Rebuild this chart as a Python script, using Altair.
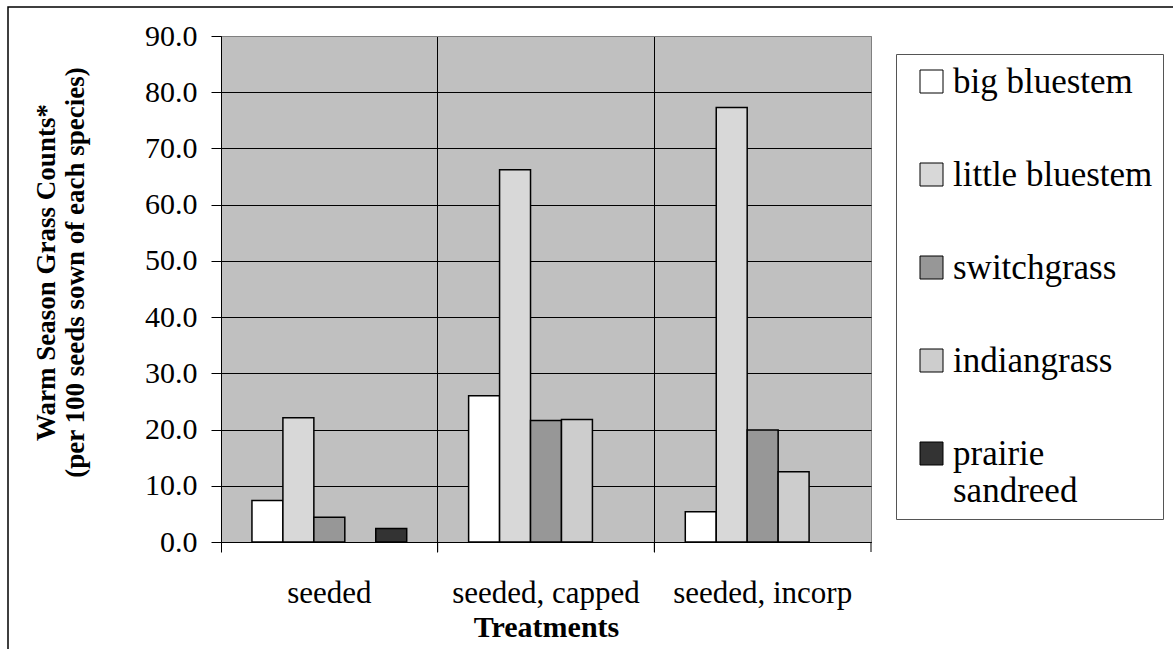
import altair as alt
import pandas as pd

treatments = ["seeded", "seeded, capped", "seeded, incorp"]
species = ["big bluestem", "little bluestem", "switchgrass", "indiangrass", "prairie sandreed"]
seeded = [7.4, 22.1, 4.4, None, 2.4]
seeded_capped = [26.0, 66.2, 21.6, 21.8, None]
seeded_incorp = [5.4, 77.3, 19.9, 12.5, None]
fills = ["#ffffff", "#d8d8d8", "#979797", "#cdcdcd", "#333333"]
y_ticks = [0, 10, 20, 30, 40, 50, 60, 70, 80, 90]

rows = []
for t, vals in zip(treatments, [seeded, seeded_capped, seeded_incorp]):
    for s, v in zip(species, vals):
        rows.append({"treatment": t, "species": s, "value": v})
df = pd.DataFrame(rows)
tdf = pd.DataFrame({"treatment": treatments})
frame_df = pd.DataFrame({"k": [0]})

FONT = "Liberation Serif"
W, H = 650, 506

x_scale = alt.Scale(domain=treatments, paddingInner=0, paddingOuter=0)
x_axis = alt.Axis(
    title="Treatments",
    bandPosition=0,
    labelAngle=0,
    labelFont=FONT,
    labelFontSize=31,
    labelColor="black",
    labelBaseline="alphabetic",
    labelPadding=50,
    labelOverlap=False,
    labelLimit=400,
    tickSize=10,
    tickColor="black",
    domainColor="black",
    grid=True,
    gridColor="black",
    gridWidth=1,
    titleFont=FONT,
    titleFontSize=30,
    titleFontWeight="bold",
    titleColor="black",
    titleBaseline="alphabetic",
    titleAlign="center",
    titleX=W / 2,
    titleY=94,
)

bars = alt.Chart(df).mark_bar(stroke="black", strokeWidth=1.5).encode(
    x=alt.X("treatment:N", scale=x_scale, sort=treatments, axis=x_axis),
    xOffset=alt.XOffset(
        "species:N",
        scale=alt.Scale(domain=species, paddingInner=0, paddingOuter=1),
    ),
    y=alt.Y(
        "value:Q",
        scale=alt.Scale(domain=[0, 90], nice=False, zero=True),
        axis=alt.Axis(
            title=["Warm Season Grass Counts*", "(per 100 seeds sown of each species)"],
            values=y_ticks,
            format=".1f",
            labelFont=FONT,
            labelFontSize=30,
            labelColor="black",
            labelPadding=14,
            tickSize=10,
            tickColor="black",
            domainColor="black",
            grid=True,
            gridColor={"condition": {"test": "datum.value === 90", "value": "#808080"}, "value": "black"},
            gridWidth=1,
            titleFont=FONT,
            titleFontSize=27,
            titleFontWeight="bold",
            titleColor="black",
            titleAngle=270,
            titleAlign="center",
            titleBaseline="middle",
            titleLineHeight=29,
            titleX=-175,
            titleY=236,
        ),
    ),
    fill=alt.Fill(
        "species:N",
        scale=alt.Scale(domain=species, range=fills),
        legend=alt.Legend(
            title=None,
            orient="none",
            legendX=675,
            legendY=18,
            padding=10,
            symbolOffset=8,
            symbolType="square",
            symbolSize=529,
            symbolStrokeColor="black",
            symbolStrokeWidth=1,
            labelFont=FONT,
            labelFontSize=35,
            labelColor="black",
            labelOffset=4,
            labelLimit=400,
            labelExpr="datum.label == 'prairie sandreed' ? ['prairie', 'sandreed'] : datum.label",
            rowPadding=57,
            strokeColor="#555555",
            fillColor="white",
        ),
    ),
)

end_ticks = alt.Chart(tdf).mark_rule(color="black", strokeWidth=1).encode(
    x=alt.X("treatment:N", scale=x_scale, sort=treatments, bandPosition=1, axis=x_axis),
    y=alt.value(H),
    y2=alt.value(H + 10),
)

frame = alt.Chart(frame_df).mark_rect(fill=None, stroke="black", strokeWidth=1.5).encode(
    x=alt.value(8 - 221),
    x2=alt.value(1190 - 221),
    y=alt.value(7 - 36),
    y2=alt.value(670 - 36),
)

chart = alt.layer(bars, end_ticks, frame).properties(
    width=W,
    height=H,
    padding={"left": 221, "top": 36, "right": 302, "bottom": 107},
    autosize=alt.AutoSizeParams(type="none"),
    background="white",
).configure_view(
    fill="#c0c0c0",
    stroke="#808080",
    strokeWidth=1,
)

chart.save("out.html", embed_options={"renderer": "svg", "actions": False})
